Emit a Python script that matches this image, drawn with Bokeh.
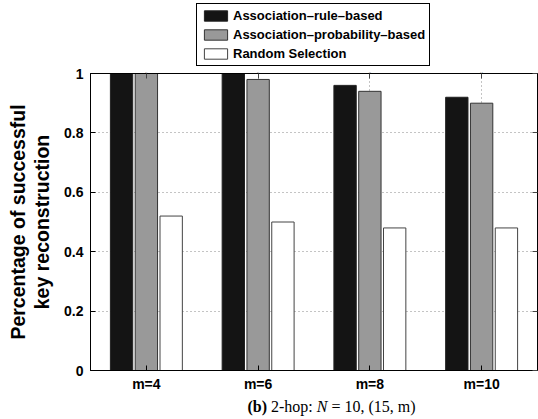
from bokeh.plotting import figure
from bokeh.layouts import column
from bokeh.models import (FactorRange, Range1d, FixedTicker, Legend, LegendItem, Label, ColumnDataSource,
                          LinearAxis, CategoricalAxis)
from bokeh.transform import dodge
from bokeh.embed import file_html
from bokeh.resources import INLINE

categories = ["m=4", "m=6", "m=8", "m=10"]
rule_based = [1.00, 1.00, 0.96, 0.92]
prob_based = [1.00, 0.98, 0.94, 0.90]
random_sel = [0.52, 0.50, 0.48, 0.48]
series_names = ["Association\u2013rule\u2013based", "Association\u2013probability\u2013based", "Random Selection"]
y_ticks = [0, 0.2, 0.4, 0.6, 0.8, 1.0]
y_tick_labels = ["0", "0.2", "0.4", "0.6", "0.8", "1"]
caption_parts = ["(b)", "2-hop:", "N", "= 10, (15, m)"]

fills = ["#141414", "#999999", "white"]
edges = ["#222222", "#333333", "#444444"]
cols = ["a", "b", "c"]
font = "Liberation Sans"
W = 0.2
off = 0.222
offsets = [-off, 0, off]

src = ColumnDataSource(dict(m=categories, a=rule_based, b=prob_based, c=random_sel))

BL, BR = 90, 1


def blank(fig):
    fig.axis.visible = False
    fig.grid.visible = False
    fig.outline_line_color = None
    fig.background_fill_color = "white"
    fig.border_fill_color = "white"


# ---- legend strip (top) ----
lg = figure(width=538, height=67, x_range=FactorRange(*categories, range_padding=0),
            y_range=Range1d(5, 6), output_backend="svg", toolbar_location=None,
            min_border_left=BL, min_border_right=BR, min_border_top=0, min_border_bottom=0)
blank(lg)
items = []
for name, col, o, fc, lc in zip(series_names, cols, offsets, fills, edges):
    rr = lg.vbar(x=dodge("m", o, range=lg.x_range), top=col, width=W, source=src,
                 fill_color=fc, line_color=lc, line_width=1)
    items.append(LegendItem(label=name, renderers=[rr]))
legend = Legend(items=items, location=(106, 1), orientation="vertical",
                border_line_color="black", border_line_width=1, border_line_alpha=1,
                background_fill_color="white", background_fill_alpha=1,
                label_text_font=font, label_text_font_style="bold", label_text_font_size="13px",
                label_text_color="black", glyph_width=29, glyph_height=13, label_height=13,
                label_standoff=3, spacing=4, padding=4, margin=0)
lg.add_layout(legend, "center")

# ---- main chart ----
p = figure(width=538, height=327, x_range=FactorRange(*categories, range_padding=0),
           y_range=Range1d(0, 1), output_backend="svg", toolbar_location=None,
           min_border_left=BL, min_border_right=BR, min_border_top=6, min_border_bottom=22)
p.background_fill_color = "white"
p.border_fill_color = "white"
p.outline_line_color = "black"
p.outline_line_width = 1

for col, o, fc, lc in zip(cols, offsets, fills, edges):
    p.vbar(x=dodge("m", o, range=p.x_range), top=col, width=W, source=src,
           fill_color=fc, line_color=lc, line_width=1)

for ax in [p.xaxis[0], p.yaxis[0]]:
    ax.major_tick_in = 5
    ax.major_tick_out = 0
    ax.minor_tick_line_color = None
    ax.axis_line_color = "black"
    ax.major_tick_line_color = "black"
    ax.major_label_text_font = font
    ax.major_label_text_font_style = "bold"
    ax.major_label_text_font_size = "14px"
    ax.major_label_text_color = "black"

p.yaxis[0].ticker = FixedTicker(ticks=y_ticks)
p.yaxis[0].major_label_overrides = {t: l for t, l in zip(y_ticks, y_tick_labels)}
p.yaxis[0].major_label_standoff = 7
p.xaxis[0].major_label_standoff = 5

p.yaxis[0].axis_label = "Percentage of successful\nkey reconstruction"
p.yaxis[0].axis_label_text_font = font
p.yaxis[0].axis_label_text_font_style = "bold"
p.yaxis[0].axis_label_text_font_size = "19.5px"
p.yaxis[0].axis_label_text_color = "black"
p.yaxis[0].axis_label_standoff = 8
p.yaxis[0].axis_label_text_line_height = 1.1

# mirrored inward ticks on the right and top (box style), without labels
ra = LinearAxis(ticker=FixedTicker(ticks=y_ticks), major_tick_in=5, major_tick_out=0,
                minor_tick_line_color=None, major_label_text_font_size="1px",
                major_label_overrides={t: "" for t in y_ticks},
                major_label_standoff=0, axis_line_color="black", major_tick_line_color="#444444")
p.add_layout(ra, "right")
ta = CategoricalAxis(major_tick_in=5, major_tick_out=0, major_label_text_font_size="1px",
                     major_label_overrides={c: "" for c in categories},
                     major_label_standoff=0, axis_line_color="black", major_tick_line_color="#444444")
p.add_layout(ta, "above")

for g in p.grid:
    g.grid_line_color = "#888888"
    g.grid_line_dash = "1 3"
    g.grid_line_width = 1
p.ygrid[0].ticker = FixedTicker(ticks=[0.2, 0.4, 0.6, 0.8])

# ---- caption strip (bottom) ----
cap = figure(width=538, height=25, x_range=Range1d(BL, 538 - BR), y_range=Range1d(0, 25),
             output_backend="svg", toolbar_location=None,
             min_border_left=BL, min_border_right=BR, min_border_top=0, min_border_bottom=0)
blank(cap)
serif = "Liberation Serif"
styles = ["bold", "normal", "italic", "normal"]
dxs = [0, 23.5, 69.3, 84]
x0 = 247
for txt, style, dx in zip(caption_parts, styles, dxs):
    cap.add_layout(Label(x=x0 + dx, y=13, text=txt,
                         text_font=serif, text_font_style=style, text_font_size="16px",
                         text_color="black", text_align="left", text_baseline="middle"))

layout = column(lg, p, cap, spacing=0)
open("out.html", "w").write(file_html(layout, INLINE))
